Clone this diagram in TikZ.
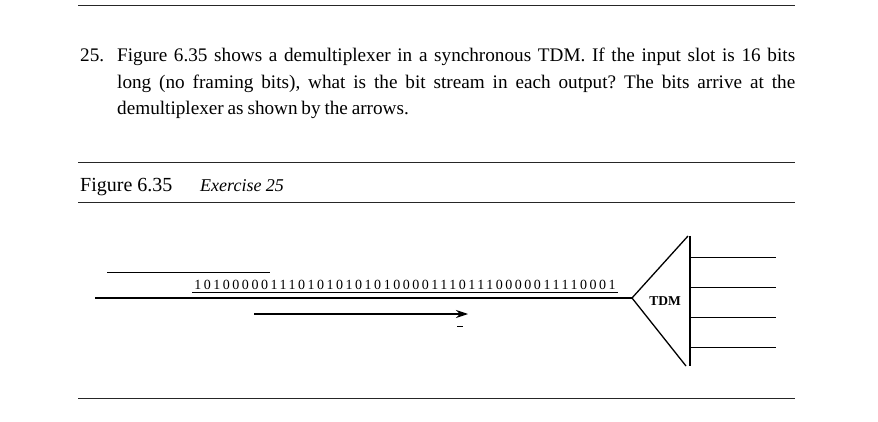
\documentclass[tikz,border=0pt]{standalone}
\usepackage{fontspec}
\setmainfont{Liberation Serif}
\usetikzlibrary{positioning,arrows.meta}
\newcommand\qspacing{\frenchspacing\spaceskip=0.2em plus 0.2em minus 0.1em\relax}
\tikzset{rule/.style={draw=black!85, line width=1pt}}
\tikzset{qtext/.style={font=\fontsize{19.2}{26.5}\selectfont, inner sep=0pt}}
\tikzset{bitline/.style={draw=black, line width=2.4pt}}
\tikzset{demux/.style={draw=black, line width=1.3pt}}
\tikzset{outline/.style={draw=black, line width=1pt}}
\tikzset{flow/.style={-{Stealth[length=12pt, width=8pt]}, draw=black, line width=1.1pt}}
\begin{document}
\begin{tikzpicture}[x=1pt, y=-1pt]
  \useasboundingbox (0,0) rectangle (878,422);

  % rules of the page
  \draw[rule, line width=0.8pt] (78,5) -- (795,5);
  \draw[rule] (78,163) -- (795,163);
  \draw[rule] (78,203) -- (795,203);
  \draw[rule] (78,398) -- (795,398);

  % exercise text
  \node[qtext, anchor=base west] (qnum) at (80,62) {25.};
  \node[qtext, anchor=base west, text width=678pt, align=justify] (qbody) at (117,62)
    {\qspacing Figure 6.35 shows a demultiplexer in a synchronous TDM. If the input slot is 16~bits\linebreak
     long (no framing bits), what is the bit stream in each output? The bits arrive at the\linebreak
     demultiplexer as shown by the arrows.};

  \node[inner sep=0pt, anchor=base west, font=\fontsize{20}{24}\selectfont] (figlabel) at (80,192) {Figure 6.35};
  \node[inner sep=0pt, anchor=base west, font=\fontsize{18}{22}\selectfont\itshape] (figtitle) at (200,192) {Exercise 25};

  % incoming bits
  \coordinate (instart) at (95,298);
  \coordinate (tip) at (632,298);
  \draw[bitline] (instart) -- (tip);
  \draw[outline] (107,272) -- (270,272);
  \node[inner sep=0pt, anchor=base] (bits) at (405,289)
    {\fontsize{14}{16}\selectfont\addfontfeatures{LetterSpace=18}101000001110101010101000011101110000011110001};
  \draw[outline, line width=0.8pt] ([xshift=-2pt, yshift=-3pt]bits.base west) -- ([xshift=2pt, yshift=-3pt]bits.base east);

  \coordinate (arrstart) at (254,314);
  \coordinate (arrend) at (468,314);
  \draw[flow] (arrstart) -- (arrend);
  \draw[outline] (457,326) -- (463,326);

  % demultiplexer
  \coordinate (bartop) at (690,236);
  \coordinate (barbot) at (690,366);
  \draw[demux] (tip) -- (688,236);
  \draw[demux] (tip) -- (686,366);
  \draw[demux] (bartop) -- (barbot);
  \node[inner sep=0pt, font=\fontsize{13.5}{16}\selectfont\bfseries] (tdm) at (665,301) {TDM};

  \foreach \y [count=\i] in {257,287,317,347}
    \draw[outline] (690,\y) coordinate (out\i) -- (776,\y);
\end{tikzpicture}
\end{document}
